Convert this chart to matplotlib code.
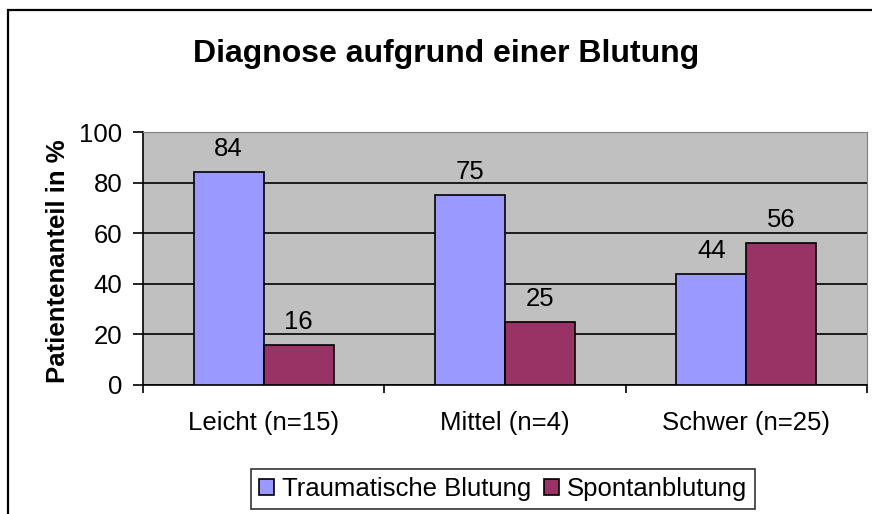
import matplotlib
matplotlib.use("Agg")
import matplotlib.pyplot as plt
from matplotlib.patches import Rectangle
import numpy as np

categories = ["Leicht (n=15)", "Mittel (n=4)", "Schwer (n=25)"]
series_names = ["Traumatische Blutung", "Spontanblutung"]
traumatisch = [84, 75, 44]
spontan = [16, 25, 56]
yticks = [0, 20, 40, 60, 80, 100]

plt.rcParams['font.family'] = ['Liberation Sans', 'DejaVu Sans']

W, H = 872, 514
fig = plt.figure(figsize=(W / 100, H / 100), dpi=100)
fig.patch.set_facecolor('white')

# outer chart frame
fig.patches.append(Rectangle((8 / W, -0.2), 1.2, 1.2 - 10 / H, transform=fig.transFigure,
                             fill=False, edgecolor='black', linewidth=1.6, zorder=0))

ax = fig.add_axes([143 / W, (H - 385) / H, 724 / W, 253 / H])
ax.set_facecolor('#C0C0C0')

x = np.arange(len(categories))
w = 0.29
b1 = ax.bar(x - w / 2, traumatisch, w, color='#9999FF', edgecolor='black', linewidth=1.2,
            label=series_names[0], zorder=3)
b2 = ax.bar(x + w / 2, spontan, w, color='#993366', edgecolor='black', linewidth=1.2,
            label=series_names[1], zorder=3)

FS = 18.5
for bars, vals in ((b1, traumatisch), (b2, spontan)):
    for r, v in zip(bars, vals):
        ax.annotate(f"{v}", (r.get_x() + r.get_width() / 2, r.get_height()),
                    xytext=(0, 11), textcoords='offset pixels', ha='center', va='bottom',
                    fontsize=FS, zorder=4)

ax.set_xlim(-0.5, len(categories) - 0.5)
ax.set_ylim(0, 100)
ax.set_yticks(yticks)
ax.set_yticklabels([str(t) for t in yticks], fontsize=FS)
ax.yaxis.grid(True, color='black', linewidth=1.2, zorder=1)
ax.set_axisbelow(True)

ax.set_xticks(np.arange(-0.5, len(categories)), labels=[''] * (len(categories) + 1))
ax.set_xticks(x, labels=categories, minor=True)
ax.tick_params(axis='x', which='minor', length=0, labelsize=FS, pad=19)
ax.tick_params(axis='x', which='major', direction='out', length=6, width=1.2)
ax.tick_params(axis='y', direction='out', length=7, width=1.2, pad=8)

ax.spines['left'].set_color('black')
ax.spines['bottom'].set_color('black')
ax.spines['left'].set_linewidth(1.2)
ax.spines['bottom'].set_linewidth(1.2)
ax.spines['top'].set_color('#808080')
ax.spines['right'].set_color('#808080')

ax.set_ylabel("Patientenanteil in %", fontsize=18.5, fontweight='bold')
ax.yaxis.set_label_coords(-0.101, 0.49)

fig.text(446 / W, 1 - 54 / H, "Diagnose aufgrund einer Blutung", ha='center', va='center',
         fontsize=23, fontweight='bold')

leg = fig.legend(handles=[b1, b2], labels=series_names, loc='center',
                 bbox_to_anchor=(503 / W, 1 - 489 / H), ncol=2, frameon=True, fancybox=False,
                 edgecolor='black', fontsize=FS, handlelength=0.6, handleheight=0.6,
                 handletextpad=0.3, columnspacing=0.5, borderpad=0.3, borderaxespad=0)
leg.get_frame().set_linewidth(1.2)

fig.savefig("out.png", dpi=100)
